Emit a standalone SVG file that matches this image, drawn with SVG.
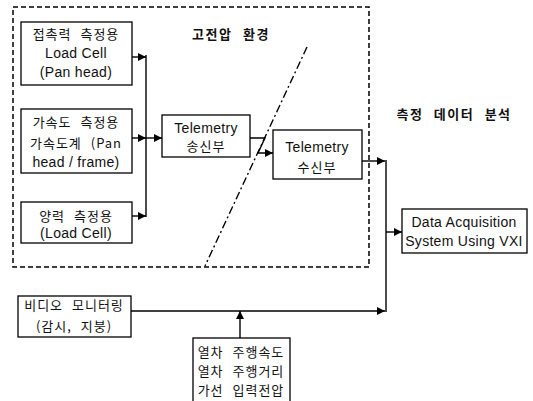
<svg xmlns="http://www.w3.org/2000/svg" width="533" height="401" viewBox="0 0 533 401">
<defs>
<marker id="ah" viewBox="0 0 10 10" refX="10" refY="5" markerWidth="9" markerHeight="8" markerUnits="userSpaceOnUse" orient="auto"><path d="M0,0 L10,5 L0,10 Z" fill="#000"/></marker>
<style>
.box{fill:#fff;stroke:#000;stroke-width:1.3}
.ln{fill:none;stroke:#000;stroke-width:1.4}
.arr{fill:none;stroke:#000;stroke-width:1.4;marker-end:url(#ah)}
.t{font-family:"Liberation Sans","Noto Sans CJK KR",sans-serif;font-size:14px;letter-spacing:0.3px;fill:#111;text-anchor:middle;dominant-baseline:central}
.k{font-family:"Noto Sans CJK KR","Liberation Sans",sans-serif;font-size:13px;letter-spacing:1px;word-spacing:5px;fill:#111;text-anchor:middle;dominant-baseline:central}
.h{font-family:"Noto Sans CJK KR",sans-serif;font-size:13px;font-weight:bold;letter-spacing:1.5px;word-spacing:6px;fill:#111;text-anchor:middle;dominant-baseline:central}
</style>
</defs>
<rect id="hv-zone" x="13" y="7" width="356" height="260" fill="none" stroke="#000" stroke-width="1.5" stroke-dasharray="5,3"/>
<line id="boundary" x1="307" y1="47" x2="205" y2="266" stroke="#000" stroke-width="1.4" stroke-dasharray="8,3,2,3"/>
<text class="h" x="231" y="33">고전압 환경</text>
<text class="h" x="454" y="113">측정 데이터 분석</text>
<g id="connectors">
<polyline class="arr" points="132,57 146,57"/>
<polyline class="arr" points="132,138 146,138"/>
<polyline class="arr" points="132,216 146,216"/>
<line class="ln" x1="146" y1="55" x2="146" y2="217"/>
<polyline class="arr" points="146,138 162,138"/>
<polyline class="arr" points="250,138 265,138 258,153 273,153"/>
<polyline class="arr" points="362,161 385,161"/>
<line class="ln" x1="386" y1="160" x2="386" y2="312"/>
<polyline class="arr" points="386,232 402,232"/>
<polyline class="arr" points="131,311 385,311"/>
<polyline class="arr" points="240,338 240,311"/>
</g>
<g id="n1"><rect class="box" x="21" y="22" width="111" height="63"/>
<text class="k" x="76" y="33">접촉력 측정용</text>
<text class="t" x="76" y="53">Load Cell</text>
<text class="t" x="76" y="72">(Pan head)</text></g>
<g id="n2"><rect class="box" x="21" y="109" width="111" height="64"/>
<text class="k" x="76" y="121">가속도 측정용</text>
<text class="k" x="76" y="142">가속도계 (Pan</text>
<text class="t" x="76" y="162">head / frame)</text></g>
<g id="n3"><rect class="box" x="21" y="202" width="111" height="41"/>
<text class="k" x="76" y="215">양력 측정용</text>
<text class="t" x="76" y="233">(Load Cell)</text></g>
<g id="tx"><rect class="box" x="162" y="115" width="88" height="42"/>
<text class="t" x="206" y="128">Telemetry</text>
<text class="k" x="206" y="145">송신부</text></g>
<g id="rx"><rect class="box" x="273" y="130" width="89" height="49"/>
<text class="t" x="317" y="147">Telemetry</text>
<text class="k" x="317" y="166">수신부</text></g>
<g id="daq"><rect class="box" x="402" y="209" width="125" height="44"/>
<text class="t" x="464" y="222">Data Acquisition</text>
<text class="t" x="464" y="241">System Using VXI</text></g>
<g id="video"><rect class="box" x="18" y="296" width="113" height="41"/>
<text class="k" x="74" y="304">비디오 모니터링</text>
<text class="k" x="74" y="325">(감시, 지붕)</text></g>
<g id="train"><rect class="box" x="193" y="338" width="97" height="70"/>
<text class="k" x="241" y="351">열차 주행속도</text>
<text class="k" x="241" y="370">열차 주행거리</text>
<text class="k" x="241" y="389">가선 입력전압</text></g>
</svg>
